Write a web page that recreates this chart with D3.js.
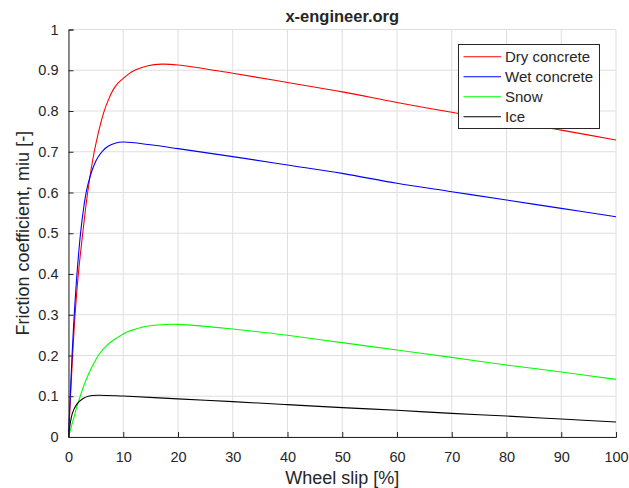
<!DOCTYPE html>
<html>
<head>
<meta charset="utf-8">
<script src="https://cdn.jsdelivr.net/npm/d3@7"></script>
<style>
  body { margin: 0; background: #fff; }
  text { font-family: "Liberation Sans", Arial, sans-serif; fill: #262626; }
</style>
</head>
<body>
<div id="chart"></div>
<script>
// wheel slip [%] and friction coefficient
let dry_slip = [0, 0.75, 1.2, 1.8, 2.6, 3.5, 4.7, 6.4, 7.3, 8.2, 9, 10, 11, 12.3, 14.5, 17, 20, 30, 40, 50, 60, 70, 80, 90, 100]
let dry_mu = [0, 0.2, 0.3, 0.4, 0.5, 0.6, 0.7, 0.795, 0.828, 0.853, 0.868, 0.88, 0.891, 0.901, 0.911, 0.915, 0.913, 0.8925, 0.870, 0.847, 0.821, 0.797, 0.776, 0.753, 0.729]

let wet_slip = [0, 0.65, 1.05, 1.55, 2.2, 2.8, 3.3, 3.9, 4.6, 5.4, 6.3, 7.3, 8.5, 10, 15, 20, 30, 40, 50, 60, 70, 80, 90, 100]
let wet_mu = [0, 0.2, 0.3, 0.4, 0.5, 0.565, 0.605, 0.637, 0.665, 0.687, 0.703, 0.714, 0.721, 0.724, 0.717, 0.7076, 0.688, 0.6675, 0.647, 0.6225, 0.602, 0.5816, 0.561, 0.5406]

let snow_slip = [0, 0.9, 1.8, 3.2, 4.4, 5.6, 7, 8.7, 10.6, 12.3, 14, 16.7, 20, 30, 40, 50, 60, 70, 80, 90, 100]
let snow_mu = [0, 0.044, 0.086, 0.14, 0.175, 0.203, 0.225, 0.242, 0.257, 0.265, 0.271, 0.2755, 0.2765, 0.265, 0.2495, 0.2315, 0.2135, 0.1955, 0.1767, 0.1595, 0.1415]

let ice_slip = [0, 0.15, 0.3, 0.7, 1.5, 2.6, 3.8, 5.3, 10, 20, 30, 40, 50, 60, 70, 80, 90, 100]
let ice_mu = [0, 0.017, 0.032, 0.058, 0.08, 0.094, 0.1005, 0.1025, 0.1005, 0.0935, 0.0867, 0.0794, 0.072, 0.0655, 0.058, 0.0515, 0.044, 0.0368]

let seriesNames = ['Dry concrete', 'Wet concrete', 'Snow', 'Ice']
let seriesColors = ['#ff0000', '#0000ff', '#00ff00', '#000000']
let xTicks = [0, 10, 20, 30, 40, 50, 60, 70, 80, 90, 100]
let yTicks = [0, 0.1, 0.2, 0.3, 0.4, 0.5, 0.6, 0.7, 0.8, 0.9, 1]

let width = 629
let height = 488
let margin = { left: 68.5, right: 13, top: 29.5, bottom: 51 }

let svg = d3.select('#chart').append('svg').attr('width', width).attr('height', height)

// 比例尺
let x = d3.scaleLinear().domain([0, 100]).range([margin.left, width - margin.right])
let y = d3.scaleLinear().domain([0, 1]).range([height - margin.bottom, margin.top])

// 网格线
let grid = svg.append('g').attr('class', 'grid')
grid.selectAll('.gx').data(xTicks).enter().append('line')
  .attr('x1', d => x(d)).attr('x2', d => x(d))
  .attr('y1', y(0)).attr('y2', y(1))
  .attr('stroke', '#dfdfdf').attr('stroke-width', 1)
grid.selectAll('.gy').data(yTicks).enter().append('line')
  .attr('x1', x(0)).attr('x2', x(100))
  .attr('y1', d => y(d)).attr('y2', d => y(d))
  .attr('stroke', '#dfdfdf').attr('stroke-width', 1)

// 曲线
let data = [
  dry_slip.map((s, i) => [s, dry_mu[i]]),
  wet_slip.map((s, i) => [s, wet_mu[i]]),
  snow_slip.map((s, i) => [s, snow_mu[i]]),
  ice_slip.map((s, i) => [s, ice_mu[i]])
]
let line = d3.line().x(d => x(d[0])).y(d => y(d[1])).curve(d3.curveCatmullRom.alpha(0.5))
let plot = svg.append('g').attr('class', 'lines')
data.forEach((d, i) => {
  plot.append('path').attr('d', line(d))
    .attr('fill', 'none').attr('stroke', seriesColors[i]).attr('stroke-width', 1.1)
})

// 坐标轴 (刻度朝内)
let xAxis = d3.axisBottom(x).tickValues(xTicks).tickSize(-5).tickPadding(10).tickFormat(d3.format('d'))
let yAxis = d3.axisLeft(y).tickValues(yTicks).tickSize(-5).tickPadding(10).tickFormat(d => d)
let gx = svg.append('g').attr('transform', 'translate(0,' + y(0) + ')').call(xAxis)
let gy = svg.append('g').attr('transform', 'translate(' + x(0) + ',0)').call(yAxis)
;[gx, gy].forEach(g => {
  g.select('.domain').attr('stroke', '#262626')
  g.selectAll('.tick line').attr('stroke', '#262626')
  g.selectAll('.tick text').attr('font-size', 14.5).attr('fill', '#262626')
    .attr('font-family', '"Liberation Sans", Arial, sans-serif')
})
gx.selectAll('.tick text').attr('dy', '1.05em')

// 标题
svg.append('text').text('x-engineer.org').attr('x', x(50)).attr('y', 22)
  .attr('text-anchor', 'middle').attr('font-weight', 'bold').attr('font-size', 16.5)
svg.append('text').text('Wheel slip [%]').attr('x', x(50)).attr('y', 484)
  .attr('text-anchor', 'middle').attr('font-size', 18)
svg.append('text').text('Friction coefficient, miu [-]')
  .attr('transform', 'translate(29,' + y(0.5) + ') rotate(-90)')
  .attr('text-anchor', 'middle').attr('font-size', 18)

// 图例
let legend = svg.append('g').attr('class', 'legend')
legend.append('rect').attr('x', 458.5).attr('y', 44.5).attr('width', 141).attr('height', 84)
  .attr('fill', '#fff').attr('stroke', '#262626').attr('stroke-width', 1)
seriesNames.forEach((name, i) => {
  let ly = 56.7 + i * 20
  legend.append('line').attr('x1', 463.5).attr('x2', 501).attr('y1', ly).attr('y2', ly)
    .attr('stroke', seriesColors[i]).attr('stroke-width', 1.1)
  legend.append('text').text(name).attr('x', 505).attr('y', ly + 5).attr('font-size', 15)
})
</script>
</body>
</html>
